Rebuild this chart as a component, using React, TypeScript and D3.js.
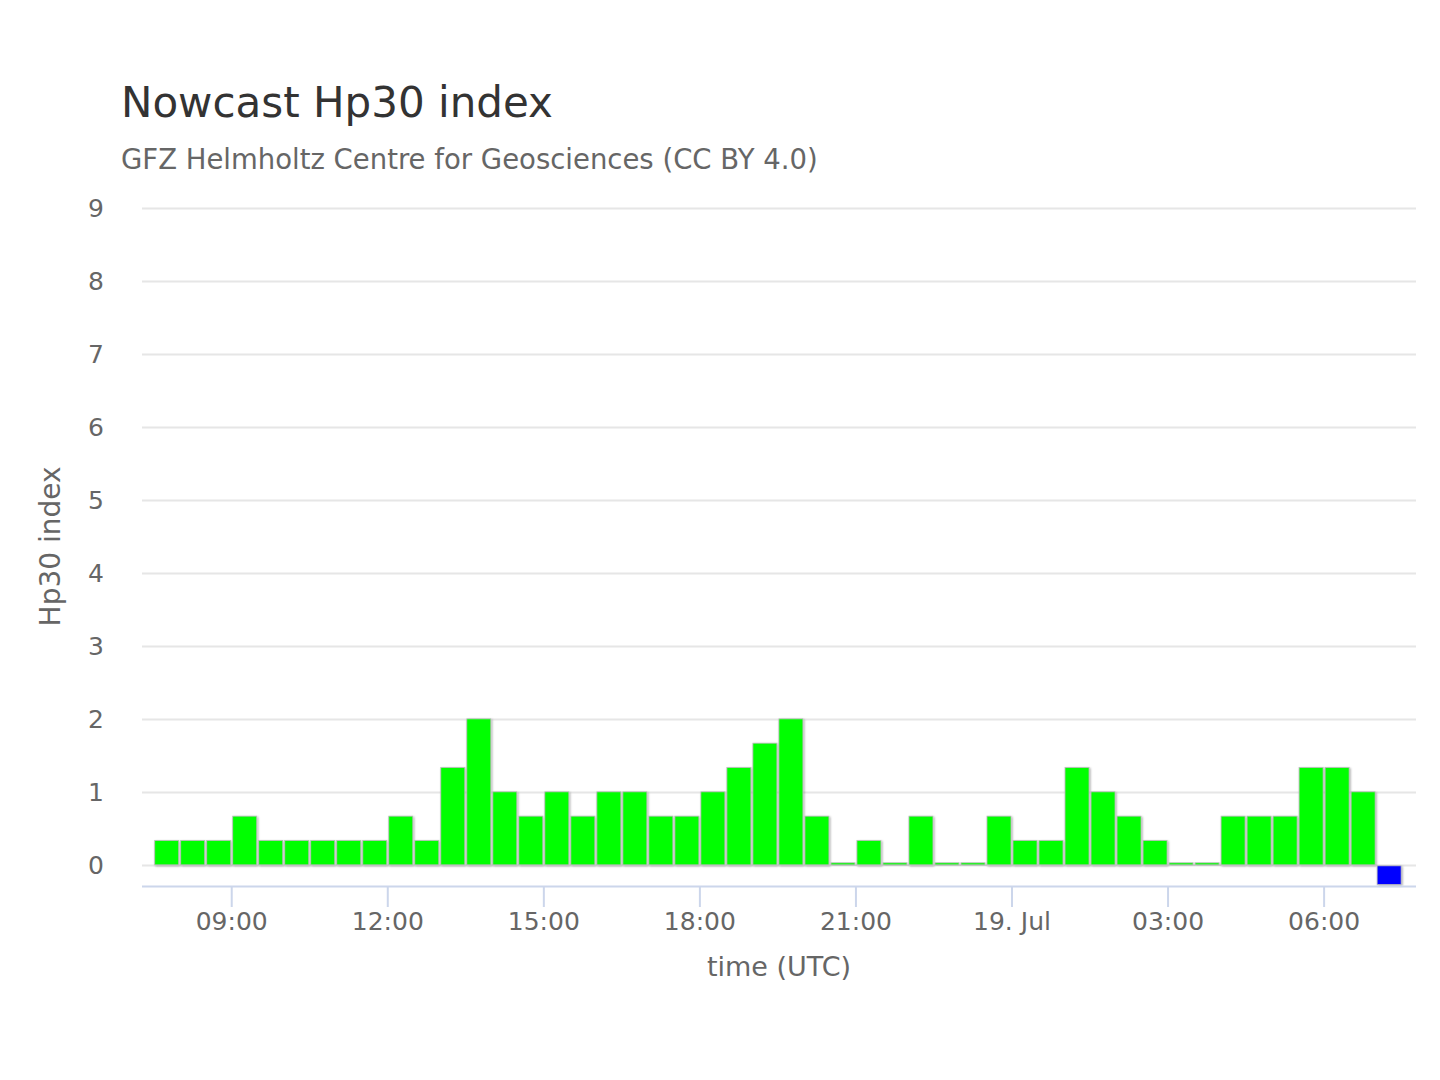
import * as d3 from 'd3';
import { useEffect, useRef } from 'react';

// half-hour Hp30 values, 18 Jul 07:45 UTC .. 19 Jul 06:45 UTC
const times: string[] = [
    "2024-07-18T07:45Z", "2024-07-18T08:15Z", "2024-07-18T08:45Z", "2024-07-18T09:15Z",
    "2024-07-18T09:45Z", "2024-07-18T10:15Z", "2024-07-18T10:45Z", "2024-07-18T11:15Z",
    "2024-07-18T11:45Z", "2024-07-18T12:15Z", "2024-07-18T12:45Z", "2024-07-18T13:15Z",
    "2024-07-18T13:45Z", "2024-07-18T14:15Z", "2024-07-18T14:45Z", "2024-07-18T15:15Z",
    "2024-07-18T15:45Z", "2024-07-18T16:15Z", "2024-07-18T16:45Z", "2024-07-18T17:15Z",
    "2024-07-18T17:45Z", "2024-07-18T18:15Z", "2024-07-18T18:45Z", "2024-07-18T19:15Z",
    "2024-07-18T19:45Z", "2024-07-18T20:15Z", "2024-07-18T20:45Z", "2024-07-18T21:15Z",
    "2024-07-18T21:45Z", "2024-07-18T22:15Z", "2024-07-18T22:45Z", "2024-07-18T23:15Z",
    "2024-07-18T23:45Z", "2024-07-19T00:15Z", "2024-07-19T00:45Z", "2024-07-19T01:15Z",
    "2024-07-19T01:45Z", "2024-07-19T02:15Z", "2024-07-19T02:45Z", "2024-07-19T03:15Z",
    "2024-07-19T03:45Z", "2024-07-19T04:15Z", "2024-07-19T04:45Z", "2024-07-19T05:15Z",
    "2024-07-19T05:45Z", "2024-07-19T06:15Z", "2024-07-19T06:45Z",
];
const hp30: number[] = [
    0.333, 0.333, 0.333, 0.667, 0.333, 0.333, 0.333, 0.333,
    0.333, 0.667, 0.333, 1.333, 2, 1, 0.667, 1,
    0.667, 1, 1, 0.667, 0.667, 1, 1.333, 1.667,
    2, 0.667, 0, 0.333, 0, 0.667, 0, 0,
    0.667, 0.333, 0.333, 1.333, 1, 0.667, 0.333, 0,
    0, 0.667, 0.667, 0.667, 1.333, 1.333, 1,
];
// latest (not yet available) slot, drawn in blue below zero
const nowcastTime = "2024-07-19T07:15Z";
const nowcastValue = -0.27;

const yTicks = [0, 1, 2, 3, 4, 5, 6, 7, 8, 9];
const xTicks: string[] = [
    "2024-07-18T09:00Z", "2024-07-18T12:00Z", "2024-07-18T15:00Z", "2024-07-18T18:00Z",
    "2024-07-18T21:00Z", "2024-07-19T00:00Z", "2024-07-19T03:00Z", "2024-07-19T06:00Z",
];

const FONT = '"DejaVu Sans", sans-serif';

const App = () => {
    const ref = useRef<HTMLDivElement>(null);
    useEffect(() => {
        DrawChart();
    }, []);
    const DrawChart = () => {
        const el = ref.current;
        if (!el) return;
        d3.select(el).selectAll("*").remove();
        var W = 1440, H = 1080;
        var margin = { top: 208, right: 24, bottom: 194, left: 142 },
            width = W - margin.left - margin.right,
            height = H - margin.top - margin.bottom;

        var x = d3.scaleUtc()
            .domain([new Date("2024-07-18T07:16:30Z"), new Date("2024-07-19T07:46Z")])
            .range([0, width]);
        var y = d3.scaleLinear().domain([-0.29, 9]).range([height, 0]);

        var svg = d3.select(el).append("svg")
            .attr("width", W)
            .attr("height", H)
            .style("display", "block")
            .style("background", "#fff")
            .style("font-family", FONT);

        var defs = svg.append("defs");
        var f = defs.append("filter").attr("id", "shadow")
            .attr("x", "-20%").attr("y", "-20%").attr("width", "140%").attr("height", "140%");
        f.append("feDropShadow").attr("dx", 1).attr("dy", 1)
            .attr("stdDeviation", 1.2).attr("flood-color", "#000").attr("flood-opacity", 0.35);

        // Title
        svg.append("text").attr("x", 121).attr("y", 117)
            .attr("fill", "#333333").style("font-size", "42px")
            .text("Nowcast Hp30 index");
        svg.append("text").attr("x", 121).attr("y", 169)
            .attr("fill", "#666666").style("font-size", "27.5px")
            .text("GFZ Helmholtz Centre for Geosciences (CC BY 4.0)");

        var g = svg.append("g").attr("transform", "translate(" + margin.left + "," + margin.top + ")");

        // grid
        g.selectAll(".grid").data(yTicks).enter().append("line")
            .attr("x1", 0).attr("x2", width)
            .attr("y1", (d: number) => Math.round(y(d)) + 0.5)
            .attr("y2", (d: number) => Math.round(y(d)) + 0.5)
            .attr("stroke", "#e6e6e6").attr("stroke-width", 2);

        g.selectAll(".ylab").data(yTicks).enter().append("text")
            .attr("x", -38).attr("y", (d: number) => y(d) + 9)
            .attr("text-anchor", "end")
            .attr("fill", "#666666").style("font-size", "25px")
            .text((d: number) => d);

        svg.append("text")
            .attr("transform", "translate(60," + (margin.top + y(4.5) + 10) + ")rotate(-90)")
            .attr("text-anchor", "middle")
            .attr("fill", "#666666").style("font-size", "28px")
            .text("Hp30 index");

        // bars
        var half = 15 * 60 * 1000;
        var bars = times.map((t, i) => ({ t: new Date(t), v: hp30[i] }));
        var colW = (d: any) => x(new Date(+d.t + half)) - x(new Date(+d.t - half));
        g.selectAll(".bar").data(bars).enter().append("rect")
            .attr("x", (d: any) => x(new Date(+d.t - half)) + 1)
            .attr("width", (d: any) => colW(d) - 2)
            .attr("y", (d: any) => Math.min(y(d.v), y(0) - 2))
            .attr("height", (d: any) => Math.max(y(0) - y(d.v), 2))
            .attr("fill", "#00ff00")
            .attr("stroke", "#bbbbbb").attr("stroke-width", 0.8)
            .attr("filter", "url(#shadow)");

        var nt = new Date(nowcastTime);
        g.append("rect")
            .attr("x", x(new Date(+nt - half)) + 1)
            .attr("width", x(new Date(+nt + half)) - x(new Date(+nt - half)) - 2)
            .attr("y", y(0) + 1)
            .attr("height", y(nowcastValue) - y(0) - 1)
            .attr("fill", "#0000ff")
            .attr("stroke", "#bbbbbb").attr("stroke-width", 0.8)
            .attr("filter", "url(#shadow)");

        // x axis
        g.append("line").attr("x1", 0).attr("x2", width)
            .attr("y1", height + 0.5).attr("y2", height + 0.5)
            .attr("stroke", "#ccd6eb").attr("stroke-width", 2);
        var fmt = (d: Date) => d.getUTCHours() === 0 ? d3.utcFormat("%-d. %b")(d) : d3.utcFormat("%H:%M")(d);
        var xt = xTicks.map(s => new Date(s));
        g.selectAll(".xtick").data(xt).enter().append("line")
            .attr("x1", (d: Date) => x(d)).attr("x2", (d: Date) => x(d))
            .attr("y1", height).attr("y2", height + 21)
            .attr("stroke", "#ccd6eb").attr("stroke-width", 2);
        g.selectAll(".xlab").data(xt).enter().append("text")
            .attr("x", (d: Date) => x(d)).attr("y", height + 44)
            .attr("text-anchor", "middle")
            .attr("fill", "#666666").style("font-size", "25px")
            .text((d: Date) => fmt(d));
        svg.append("text")
            .attr("x", margin.left + width / 2).attr("y", 976)
            .attr("text-anchor", "middle")
            .attr("fill", "#666666").style("font-size", "27px")
            .text("time (UTC)");
    };
    return (
        <>
            <div ref={ref} style={{ position: "absolute", left: 0, top: 0 }}></div>
        </>
    );
};
export default App;
